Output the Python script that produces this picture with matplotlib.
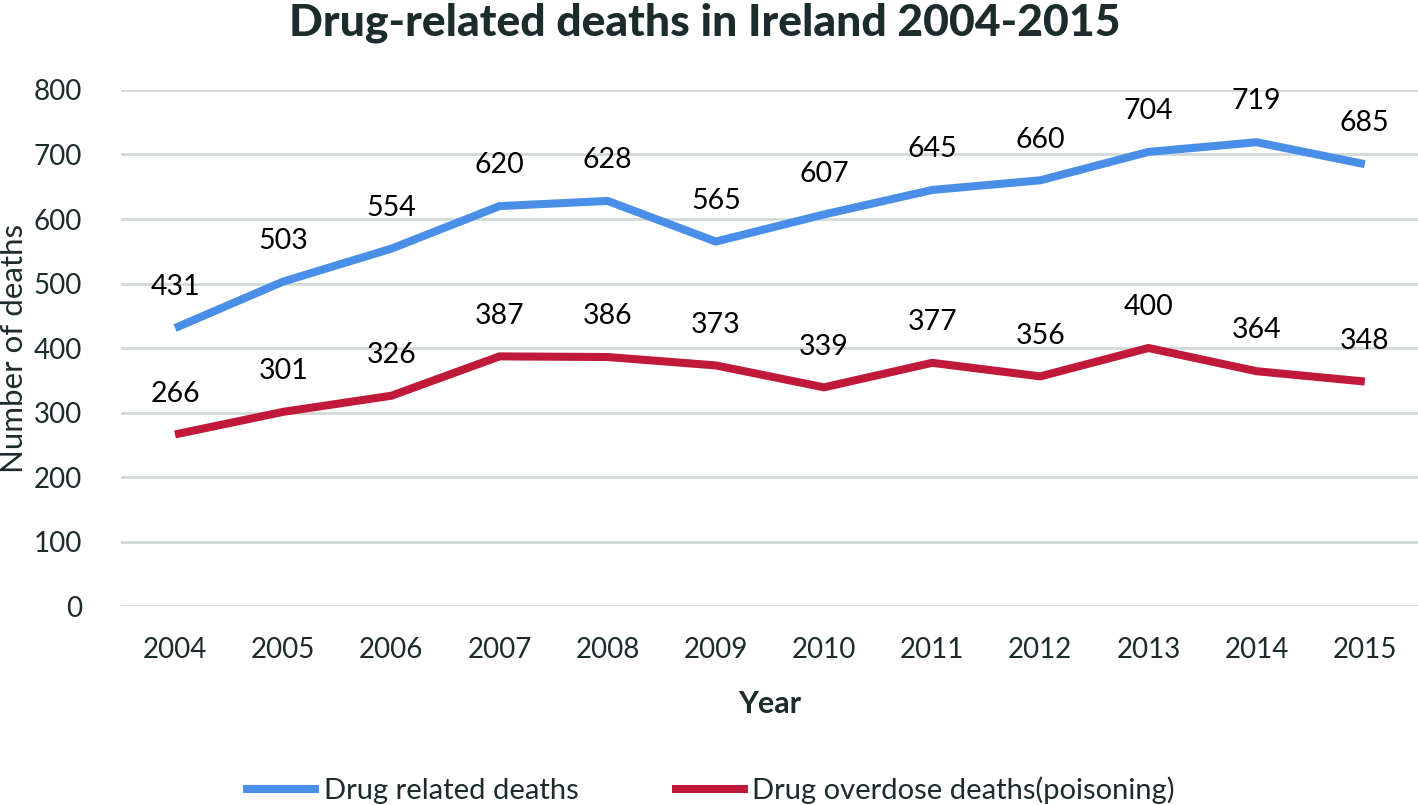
import matplotlib.pyplot as plt

years = ['2004', '2005', '2006', '2007', '2008', '2009', '2010', '2011', '2012', '2013', '2014', '2015']
related = [431, 503, 554, 620, 628, 565, 607, 645, 660, 704, 719, 685]
overdose = [266, 301, 326, 387, 386, 373, 339, 377, 356, 400, 364, 348]

text_col = '#1c2b2b'
plt.rcParams['font.family'] = ['Lato', 'DejaVu Sans']

fig = plt.figure(figsize=(14.18, 8.05), dpi=100)
ax = fig.add_axes([0.0853, 0.2472, 0.9153, 0.641])

x = range(len(years))
ax.plot(x, related, color='#4a8fe7', lw=5.8, solid_capstyle='butt', label='Drug related deaths')
ax.plot(x, overdose, color='#c0193a', lw=5.8, solid_capstyle='butt', label='Drug overdose deaths(poisoning)')

for i in x:
    ax.annotate(str(related[i]), (i, related[i]), xytext=(0, 20), textcoords='offset points',
                ha='center', va='bottom', fontsize=20.5, color='black')
    ax.annotate(str(overdose[i]), (i, overdose[i]), xytext=(0, 20), textcoords='offset points',
                ha='center', va='bottom', fontsize=20.5, color='black')

ax.set_xlim(-0.5, len(years) - 0.5)
ax.set_ylim(0, 800)
ax.set_yticks(range(0, 801, 100))
ax.set_xticks(list(x))
ax.set_xticklabels(years)
ax.tick_params(length=0, labelsize=20, labelcolor=text_col)
ax.tick_params(axis='y', pad=28)
ax.tick_params(axis='x', pad=22)
ax.grid(axis='y', color='#d3d9d7', lw=2)
ax.set_axisbelow(True)
for s in ax.spines.values():
    s.set_visible(False)

fig.text(0.0, 0.5677, 'Number of deaths', rotation=90, ha='left', va='center',
         fontsize=22.5, color=text_col)
ax.set_xlabel('Year', fontsize=22, fontweight='bold', color=text_col, labelpad=20)
fig.text(0.497, 0.972, 'Drug-related deaths in Ireland 2004-2015', ha='center', va='center',
         fontsize=32, fontweight='black', color=text_col)

leg = fig.legend(loc='center', bbox_to_anchor=(0.5, 0.018), ncol=2, frameon=False, fontsize=21,
                 handlelength=2.6, columnspacing=3.2, handletextpad=0.15)
for t in leg.get_texts():
    t.set_color(text_col)

fig.savefig('out.png', dpi=100)
